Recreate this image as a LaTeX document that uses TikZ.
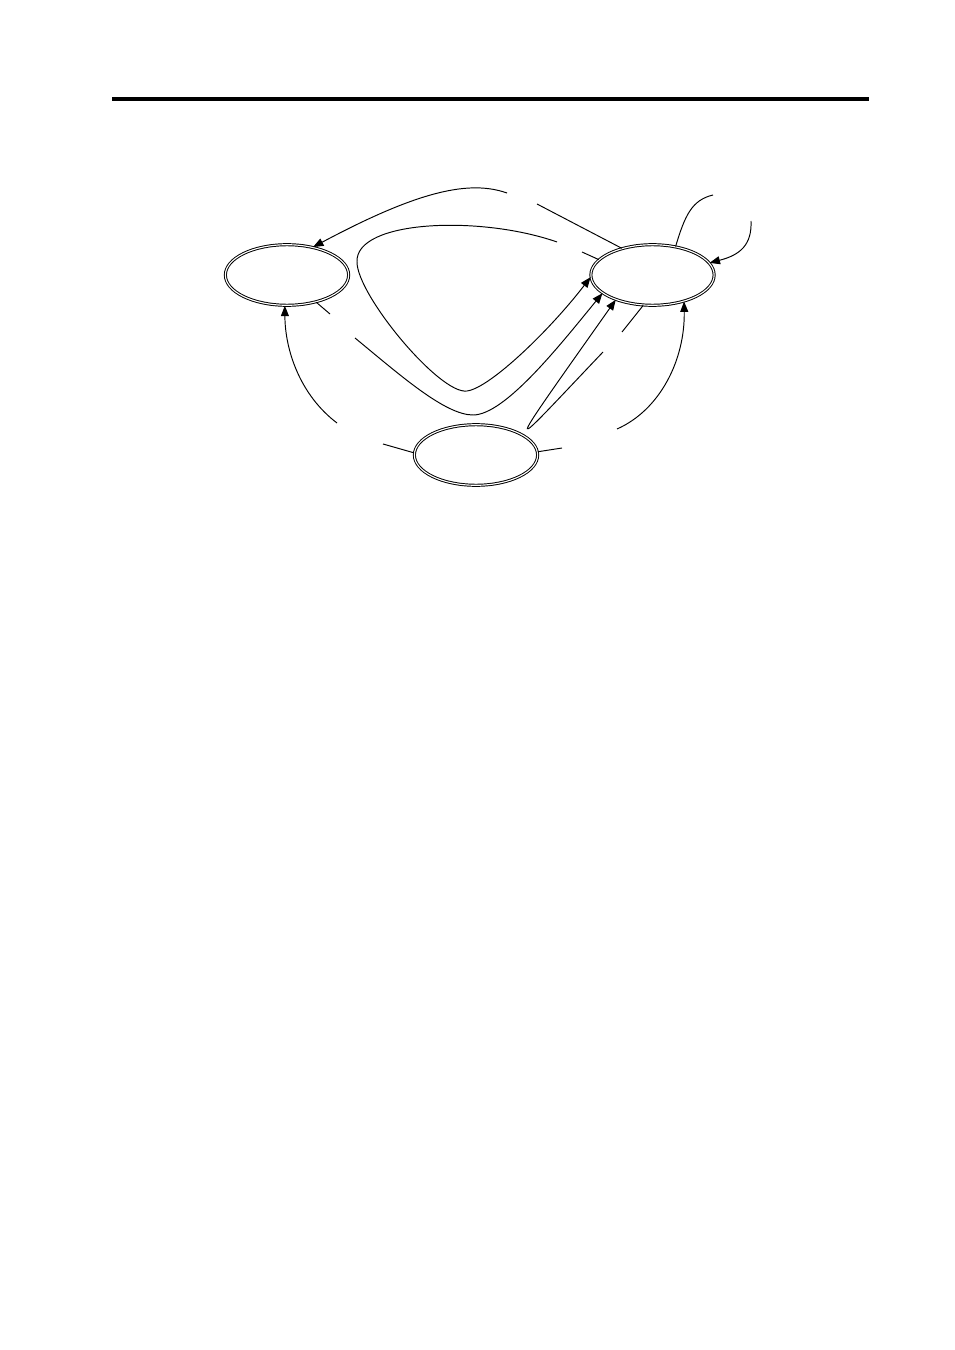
\documentclass[tikz,border=0pt]{standalone}
\usepackage{tikz}
\usetikzlibrary{shapes.geometric, arrows.meta}
\tikzset{
>={Triangle[length=6.5pt, width=5pt]}, % solid arrow heads
tr/.style={line width=0.6pt}, % the transitions
st/.style={draw, ellipse, double, double distance=0.7pt, line width=0.6pt,
  minimum width=76.9pt, minimum height=37.8pt, inner sep=0pt}, % a state, double rim
}

\begin{document}
\begin{tikzpicture}[x=0.624pt, y=-0.624pt, tr]
    \useasboundingbox (0,0) rectangle (954,1350);
    \draw[line width=2.5pt] (112,99) -- (869,99);

    \node[st] (q0) at (287,275) {};
    \node[st] (q1) at (652.5,275) {};
    \node[st] (q2) at (476,455) {};

    % ends of the breaks left for the labels
    \coordinate (g1a) at (537,204); \coordinate (g1b) at (507,193);
    \coordinate (g2a) at (582,252); \coordinate (g2b) at (557,242);
    \coordinate (g3a) at (330,314); \coordinate (g3b) at (355,338);
    \coordinate (g4a) at (622,332); \coordinate (g4b) at (603,352);
    \coordinate (g5a) at (383,444); \coordinate (g5b) at (337,423);
    \coordinate (g6a) at (562,448); \coordinate (g6b) at (617,429);
    \coordinate (g7a) at (713,195); \coordinate (g7b) at (751,221);

    % q1 -> q0
    \draw (q1.139) -- (g1a);
    \draw[->] (g1b) .. controls (470,180) and (420,190) .. (q0.47);

    % q1 -> q1, wide loop
    \draw (q1.164) -- (g2a);
    \draw[->] (g2b) .. controls (480,215) and (355,220) .. (357,262)
      .. controls (357,295) and (440,395) .. (467,391)
      .. controls (490,388) and (550,330) .. (q1.182);

    % q0 -> q1
    \draw (q0.-43) -- (g3a);
    \draw[->] (g3b) .. controls (400,375) and (445,415) .. (473,415)
      .. controls (505,415) and (560,345) .. (q1.200);

    % q1 -> q1, narrow loop
    \draw (q1.253) -- (g4a);
    \draw[->] (g4b) .. controls (505,455) and (497,468) .. (q1.214);

    % q2 -> q0
    \draw (q2.178) -- (g5a);
    \draw[->] (g5b) .. controls (300,395) and (285,350) .. (q0.266);

    % q2 -> q1
    \draw (q2.3) -- (g6a);
    \draw[->] (g6b) .. controls (660,410) and (685,360) .. (q1.-40);

    % q1 -> q1, top loop
    \draw (q1.51) .. controls (685,215) and (692,200) .. (g7a);
    \draw[->] (g7b) .. controls (752,245) and (740,255) .. (q1.12);
\end{tikzpicture}
\end{document}
